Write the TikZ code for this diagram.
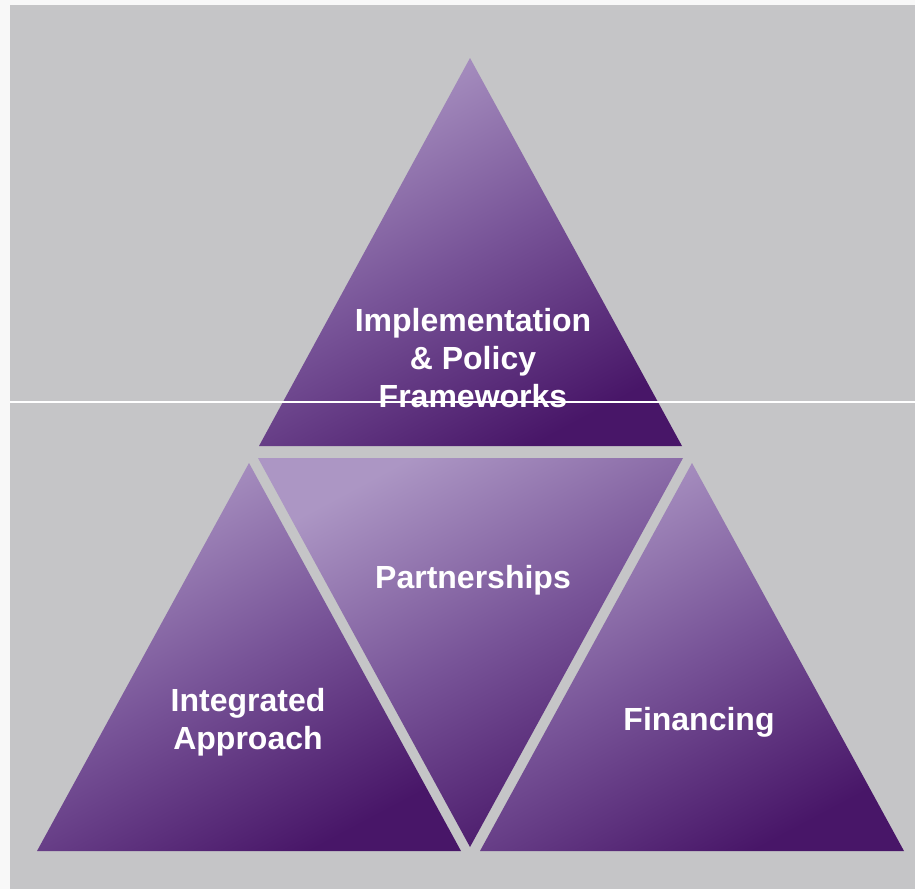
\documentclass[tikz,border=0pt]{standalone}
\usepackage{fontspec}
\setmainfont{Liberation Sans}
\definecolor{bgstrip}{HTML}{F8F8F8}
\definecolor{bggray}{HTML}{C5C5C7}
\definecolor{plight}{RGB}{172,150,196}
\definecolor{pmid}{RGB}{120,84,152}
\definecolor{pdark}{RGB}{72,22,104}
\tikzset{
  tri/.style={top color=plight, bottom color=pdark, middle color=pmid, shading angle=28},
  lbl/.style={text=white, font=\fontsize{32}{38}\selectfont\bfseries, align=center, inner sep=0pt}
}
\begin{document}
\begin{tikzpicture}[x=1pt,y=-1pt]
\useasboundingbox (0,0) rectangle (915,889);
\fill[bgstrip] (0,0) rectangle (915,889);
\fill[bggray] (10,5) rectangle (915,889);
% triangles
\shade[tri] (470,58) -- (682,446) -- (259,446) -- cycle;
\shade[tri] (258,458) -- (683,458) -- (470,847) -- cycle;
\shade[tri] (249,463) -- (461,851) -- (37,851) -- cycle;
\shade[tri] (692,463) -- (904,851) -- (480,851) -- cycle;
% labels
\node[lbl] (impl) at (473,358) {Implementation\\\& Policy\\Frameworks};
\node[lbl] (part) at (473,580) {Partnerships};
\node[lbl] (integ) at (248,722) {Integrated\\Approach};
\node[lbl] (fin) at (699,722) {Financing};
% thin white rule
\draw[white, line width=1.3pt] (10,402) -- (915,402);
\end{tikzpicture}
\end{document}
